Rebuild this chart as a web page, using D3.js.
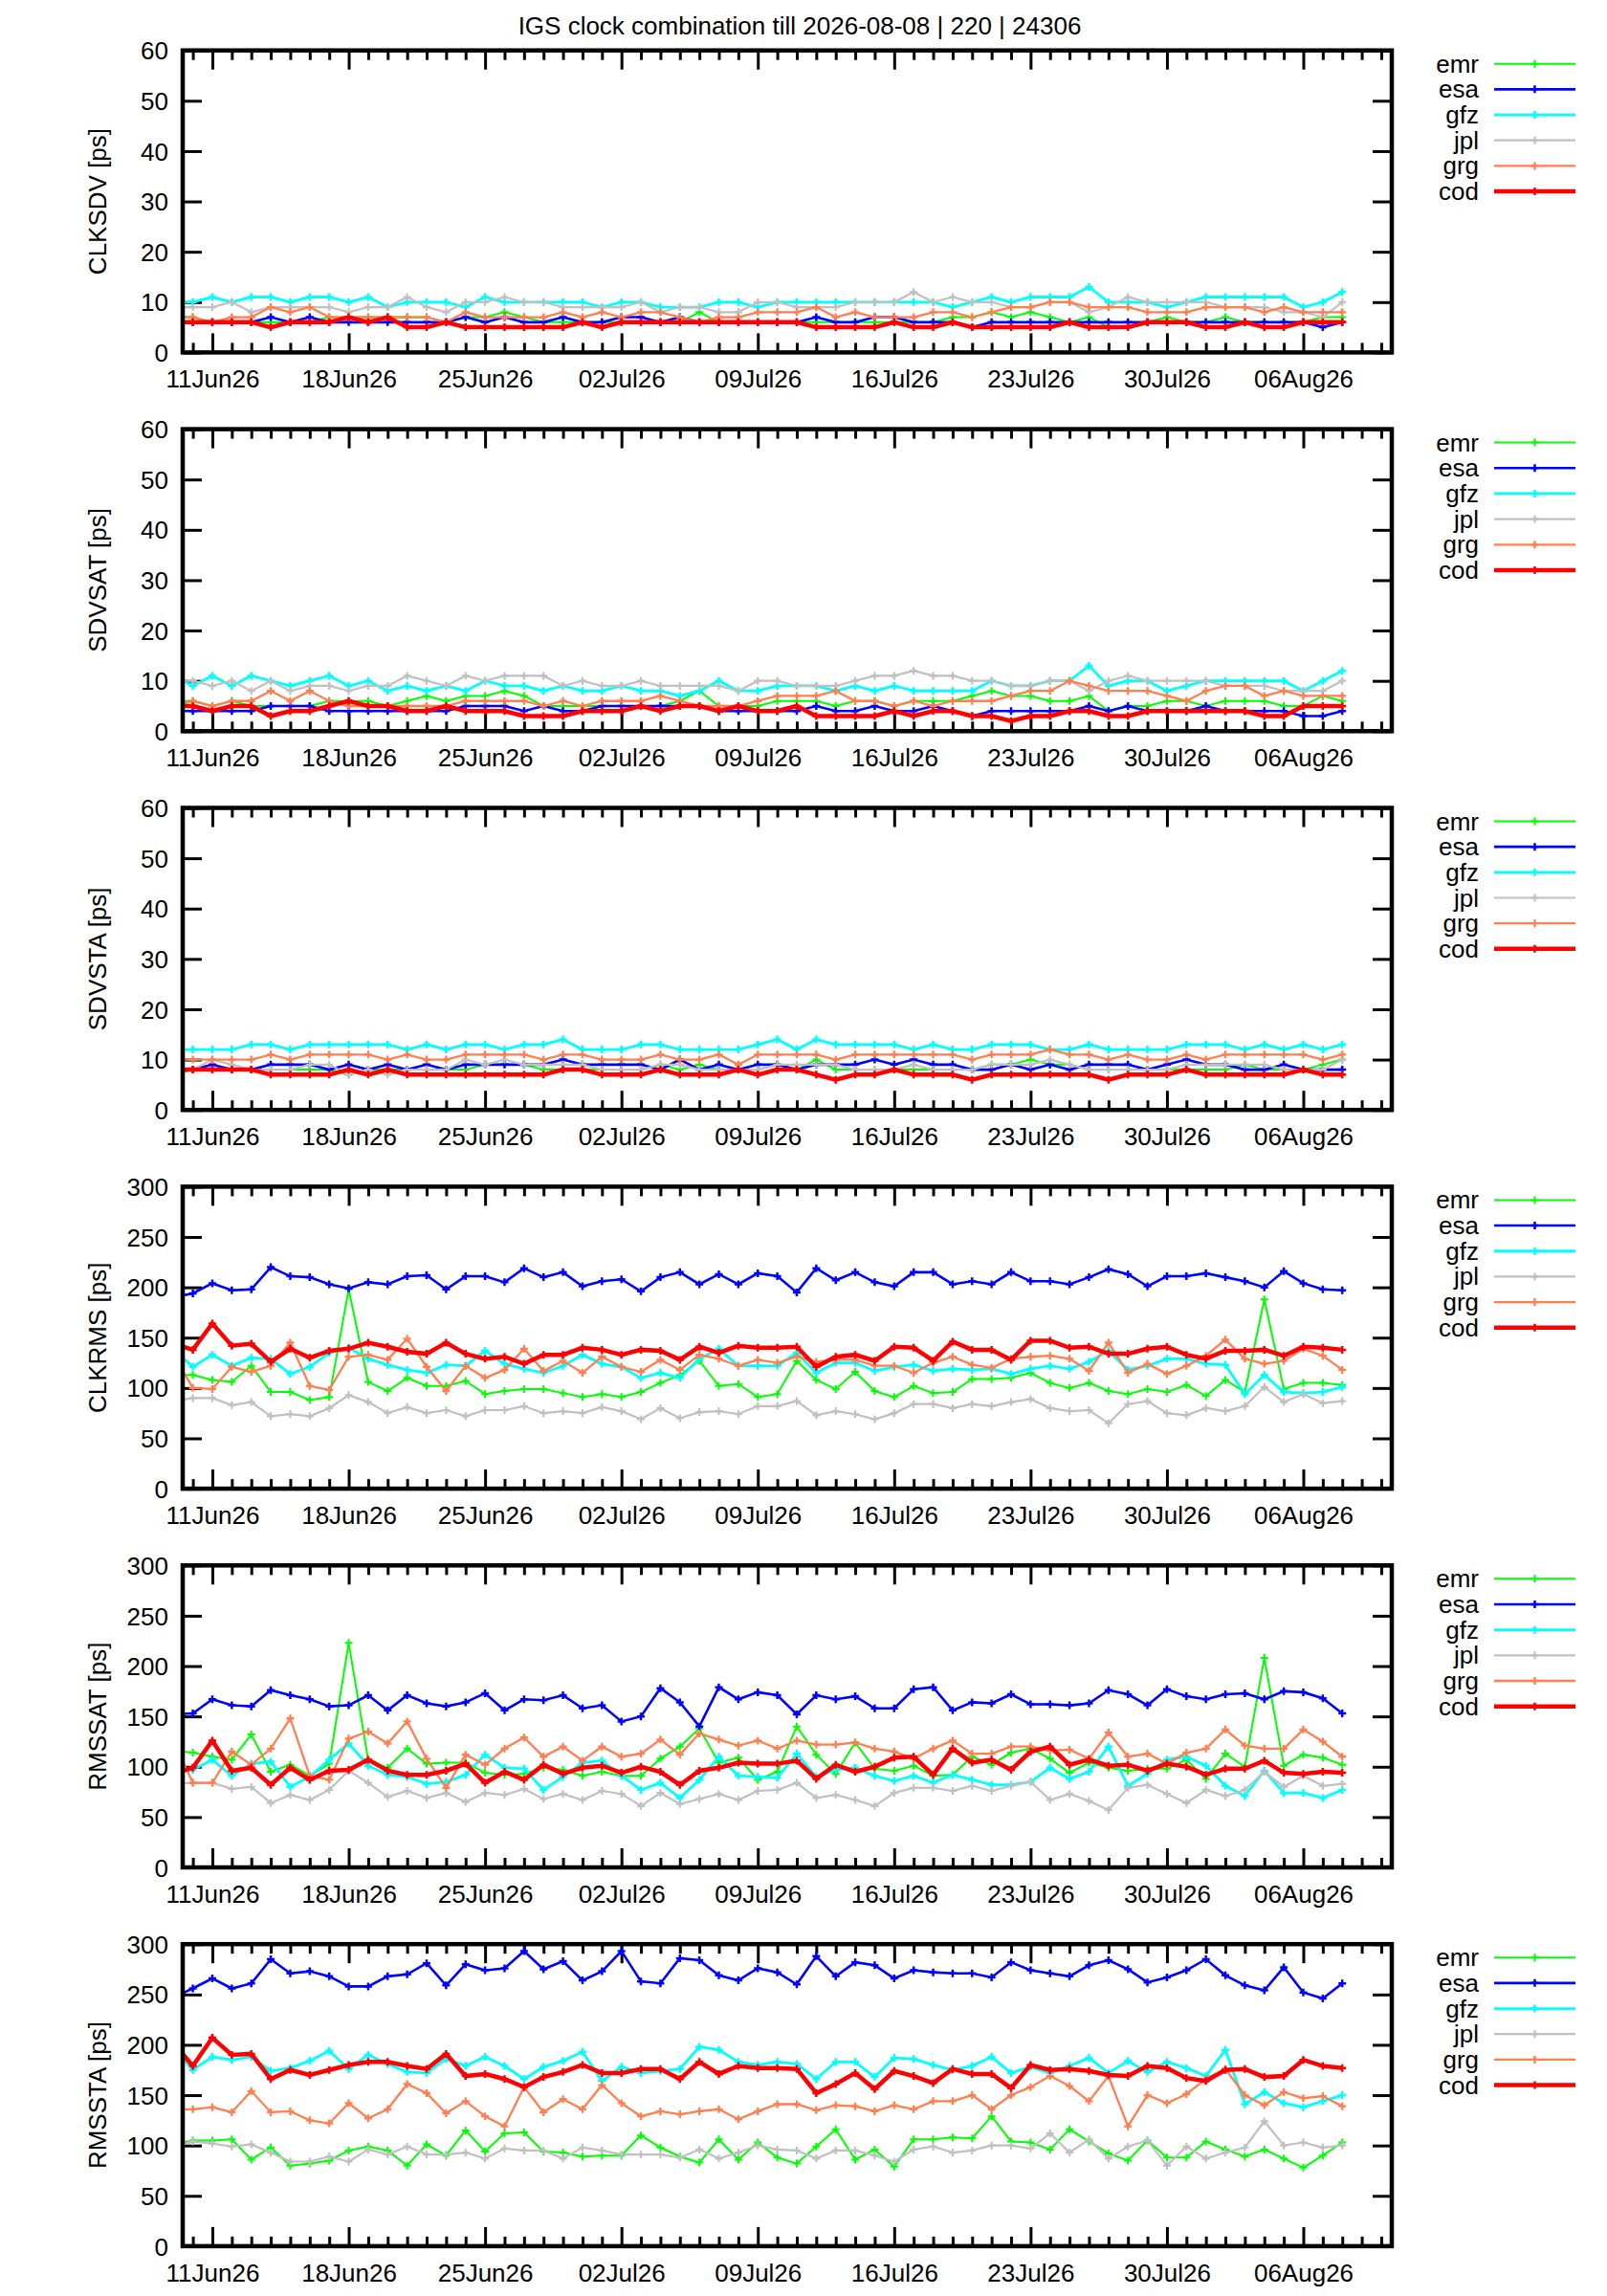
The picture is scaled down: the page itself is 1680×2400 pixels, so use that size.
<!DOCTYPE html>
<html>
<head>
<meta charset="utf-8">
<script src="https://cdnjs.cloudflare.com/ajax/libs/d3/7.8.5/d3.min.js"></script>
<style>
body{margin:0;background:#fff}
text{font-family:"Liberation Sans",Arial,Helvetica,sans-serif;font-size:26px;fill:#000}
</style>
</head>
<body>
<div id="container"></div>
<script>
var title = "IGS clock combination till 2026-08-08 | 220 | 24306"
var firstDay = "2026-06-09", lastDay = "2026-08-08"
var centers = ["emr","esa","gfz","jpl","grg","cod"]
var panelNames = ["CLKSDV","SDVSAT","SDVSTA","CLKRMS","RMSSAT","RMSSTA"]
var panelMax = [60,60,60,300,300,300]
var panelStep = [10,10,10,50,50,50]

// one value per day, 09Jun26 .. 08Aug26 (first day sits outside the x range)
var clksdvEmr = [7, 7,6,6,6,6,6,6,7,7,7,7,7,7,6,7,7,8,7,6,6,6,6,6,6,6,6,8,6,6,6,6,6, 6,6,6,6,6,6,6,7,7,8,7,8,7,6,7,5,5,6,7,6,6,7,6,6,6,6,7,7]
var clksdvEsa = [6, 6,6,6,6,7,6,7,6,6,6,6,6,6,6,7,6,7,6,6,7,6,6,7,7,6,7,6,6,6,6,6,6, 7,6,6,7,7,6,6,6,5,6,6,6,6,6,6,6,6,6,6,6,6,6,6,6,6,6,5,6]
var clksdvGfz = [10, 10,11,10,11,11,10,11,11,10,11,9,10,10,10,9,11,10,10,10,10,10,9,10,10,9,9,9,10,10,9,10,10, 10,10,10,10,10,10,10,9,10,11,10,11,11,11,13,10,10,10,9,10,11,11,11,11,11,9,10,12]
var clksdvJpl = [9, 9,9,10,8,9,9,9,9,8,9,9,11,9,8,10,10,11,10,10,9,9,9,9,10,8,9,9,8,8,10,10,9, 9,9,10,10,10,12,10,11,10,10,9,9,10,10,8,9,11,10,10,10,10,9,9,9,8,8,7,10]
var clksdvGrg = [7, 7,6,7,7,9,8,9,7,7,7,7,7,7,6,8,7,7,7,7,8,7,8,7,8,8,7,6,7,7,8,8,8, 9,7,8,7,7,7,8,8,7,8,9,9,10,10,9,9,9,8,8,8,9,9,9,8,9,8,8,8]
var clksdvCod = [6, 6,6,6,6,5,6,6,6,7,6,7,5,5,6,5,5,5,5,5,5,6,5,6,6,6,6,6,6,6,6,6,6, 5,5,5,5,6,5,5,6,5,5,5,5,5,6,5,5,5,6,6,6,5,5,6,5,5,6,6,6]

var sdvsatEmr = [6, 6,5,6,5,5,5,5,6,6,6,5,6,7,6,7,7,8,7,5,5,5,5,5,5,5,6,8,5,5,5,6, 6,6,5,6,6,5,6,6,6,7,8,7,7,6,6,7,4,5,5,6,6,5,6,6,6,5,5,7,6]
var sdvsatEsa = [4, 4,4,4,4,5,5,5,4,4,4,4,4,4,4,5,5,5,4,5,4,4,5,5,5,5,5,5,4,4,4,4, 4,5,4,4,5,4,4,5,4,3,4,4,4,4,4,5,4,5,4,4,4,5,4,4,4,4,3,3,4]
var sdvsatGfz = [11, 9,11,9,11,10,9,10,11,9,10,8,9,8,9,8,10,9,9,8,9,8,8,9,8,8,7,8,10,8,8,9, 9,9,8,9,8,9,8,8,8,8,10,9,9,10,10,13,9,10,10,8,9,10,10,10,10,10,8,10,12]
var sdvsatJpl = [10, 10,9,10,8,10,8,9,9,8,9,9,11,10,9,11,10,11,11,11,9,10,9,9,10,9,9,9,9,8,10,10, 9,9,9,10,11,11,12,11,11,10,10,9,9,10,10,8,10,11,10,10,10,10,9,9,9,8,8,8,10]
var sdvsatGrg = [5, 6,5,6,6,8,6,8,6,5,5,5,5,5,5,6,6,6,6,5,6,5,6,6,6,7,6,5,5,5,6,7, 7,7,8,6,6,5,6,5,6,6,6,7,8,8,10,9,8,8,8,7,6,8,9,9,7,8,7,7,7]
var sdvsatCod = [5, 5,4,5,5,3,4,4,5,6,5,5,4,4,5,4,4,4,3,3,3,4,4,4,5,4,5,5,4,5,4,4, 5,3,3,3,3,4,3,4,4,3,3,2,3,3,4,4,3,3,4,4,4,4,4,4,3,3,5,5,5]

var sdvstaEmr = [7, 8,8,8,8,8,8,8,8,7,8,8,8,8,8,8,9,9,9,8,8,8,8,8,8,9,8,9,8,8,8,9, 8,10,8,8,8,8,8,8,8,8,9,9,10,9,9,8,8,8,8,8,8,8,8,9,8,8,8,9,10]
var sdvstaEsa = [8, 8,9,8,8,9,9,9,8,9,8,9,8,9,8,9,9,9,9,9,10,9,9,9,9,8,10,8,9,8,9,9, 8,9,9,9,10,9,10,9,9,8,8,9,8,9,8,9,9,9,8,9,10,9,9,8,8,9,8,8,8]
var sdvstaGfz = [12, 12,12,12,13,13,12,13,13,13,13,13,12,13,12,13,13,12,13,13,14,12,12,12,13,13,12,12,12,12,13,14, 12,14,13,13,13,13,12,13,12,12,13,13,13,12,12,13,12,12,12,12,13,13,13,12,13,12,13,12,13]
var sdvstaJpl = [8, 8,10,9,8,8,8,9,9,7,8,7,8,8,8,10,9,10,9,9,9,9,8,8,8,9,9,8,8,8,8,9, 9,9,9,8,8,8,9,8,8,8,9,9,9,10,9,8,8,8,8,8,9,9,9,9,9,8,8,8,10]
var sdvstaGrg = [10, 10,10,10,10,11,10,11,11,11,11,10,11,10,10,11,11,11,11,10,11,11,10,10,10,11,10,10,11,9,11,11, 11,11,10,11,11,11,11,11,11,10,11,11,11,12,11,11,10,11,10,10,11,10,11,11,11,11,11,10,11]
var sdvstaCod = [8, 8,8,8,8,7,7,7,7,8,7,8,7,7,7,7,7,7,7,7,8,8,7,7,7,8,7,7,7,8,7,8, 8,7,6,7,7,8,7,7,7,6,7,7,7,7,7,7,6,7,7,7,8,7,7,7,7,7,8,7,7]

var clkrmsEmr = [113, 113,108,106,122,96,96,88,91,198,106,97,110,102,102,107,94,97,99,99,95,91,94,91,96,105,113,127,102,104,91,94, 127,108,99,116,97,91,102,95,96,109,109,110,115,105,100,105,97,94,99,96,103,92,108,96,188,99,105,105,103]
var clkrmsEsa = [190, 194,204,197,198,220,211,210,203,199,205,203,211,212,198,211,211,205,219,210,215,201,206,208,196,210,215,203,213,203,214,211, 195,219,207,215,205,201,215,215,203,206,203,215,206,206,203,210,218,213,201,211,211,214,210,206,200,216,204,198,197]
var clkrmsGfz = [138, 121,133,122,130,129,114,121,135,140,129,123,118,115,123,122,137,124,119,115,122,133,124,121,110,115,110,129,139,122,122,122, 135,115,125,125,117,121,123,117,119,118,119,114,119,122,119,126,137,118,122,129,129,124,123,94,113,96,95,96,101]
var clkrmsJpl = [87, 90,90,83,86,72,74,72,80,93,86,75,81,75,78,72,78,78,82,75,77,75,81,77,69,80,70,76,77,74,82,82, 87,73,77,74,69,75,84,84,80,84,82,86,89,80,77,78,65,84,87,75,73,80,77,82,101,86,94,85,87]
var clkrmsGrg = [133, 100,99,121,116,122,145,102,98,131,133,128,149,121,97,122,110,118,139,117,127,115,131,121,116,128,118,133,129,122,128,125, 131,126,128,128,122,122,115,125,131,123,120,129,131,132,129,117,145,115,124,114,122,132,148,129,124,127,139,132,118]
var clkrmsCod = [144, 138,164,142,144,126,139,130,137,139,145,141,136,134,145,134,129,131,124,133,133,140,138,133,138,137,128,141,135,142,140,140, 141,121,131,133,127,141,140,127,146,138,138,128,147,147,140,141,134,134,139,141,133,129,137,137,138,132,141,140,138]

var rmssatEmr = [116, 114,110,107,132,95,102,91,103,223,107,99,118,103,104,104,94,92,93,99,97,91,95,91,91,108,120,138,104,109,87,95, 140,112,93,124,98,96,101,91,92,110,102,114,118,108,94,104,99,96,98,98,107,88,113,100,208,101,112,109,102]
var rmssatEsa = [152, 153,167,161,160,176,171,167,160,161,171,156,171,163,160,164,173,156,167,166,171,158,161,145,150,178,164,140,179,167,174,171, 152,171,167,170,158,158,177,179,156,164,163,172,162,162,161,163,176,172,161,177,170,167,172,173,167,175,174,168,153]
var rmssatGfz = [96, 97,107,91,103,105,80,90,107,123,101,92,90,83,85,92,112,99,98,77,90,104,106,91,77,84,69,87,110,91,90,89, 113,90,97,99,91,86,91,84,92,87,82,82,85,99,88,95,120,81,93,107,110,101,81,71,96,74,74,69,77]
var rmssatJpl = [83, 84,84,78,80,64,72,67,77,96,84,70,76,69,74,65,74,72,78,68,73,67,76,73,61,74,63,68,73,67,76,77, 84,69,72,67,61,74,79,79,76,81,76,81,85,67,73,66,57,79,82,73,64,77,71,77,95,80,91,81,83]
var rmssatGrg = [126, 84,84,115,102,118,148,91,87,128,135,123,145,108,79,112,102,118,129,110,120,106,120,110,113,127,112,133,127,121,126,118, 126,122,122,124,118,115,108,118,126,113,113,120,120,116,117,108,134,110,113,103,114,118,137,121,118,118,137,125,110]
var rmssatCod = [93, 99,126,96,99,82,99,87,96,97,107,96,92,92,96,103,84,95,87,102,93,99,101,94,100,95,82,96,99,104,103,103, 106,88,102,95,100,109,110,92,118,104,107,97,115,120,102,107,101,102,96,103,100,92,98,98,106,94,93,95,94]

var rmsstaEmr = [101, 105,105,106,86,98,80,82,85,95,99,95,80,101,90,115,94,112,113,94,93,89,90,90,110,98,89,83,106,86,103,88, 82,99,116,86,96,79,106,106,108,107,129,104,103,96,116,104,92,85,105,88,88,104,96,89,96,87,78,90,103]
var rmsstaEsa = [247, 256,266,256,261,285,271,273,268,258,258,268,270,281,259,280,274,276,293,275,283,264,273,293,263,261,286,284,269,264,276,272, 260,288,268,282,279,266,274,272,271,271,267,282,274,271,268,279,284,275,262,267,274,285,269,259,254,277,252,246,261]
var rmsstaGfz = [197, 175,188,185,188,174,177,184,194,176,190,181,173,172,186,179,188,179,166,178,184,193,164,178,172,174,176,198,195,183,180,183, 181,166,183,183,168,187,186,180,175,179,188,172,178,172,179,187,172,184,173,183,177,169,195,141,153,142,138,144,150]
var rmsstaJpl = [98, 104,102,99,101,93,84,84,89,84,96,91,99,91,91,93,87,97,95,95,87,98,95,91,91,91,88,96,87,93,100,96, 95,87,95,95,90,84,96,99,93,95,100,100,97,112,93,106,87,99,105,80,99,87,93,98,124,100,103,98,100]
var rmsstaGrg = [136, 136,138,133,154,133,134,125,122,142,127,136,161,152,132,144,129,119,158,133,146,136,160,142,129,134,131,134,136,126,134,141, 141,135,140,139,134,140,136,144,144,150,136,150,158,169,159,144,169,119,150,142,151,166,176,150,140,153,147,149,139]
var rmsstaCod = [202, 179,207,190,191,166,175,170,175,180,183,183,179,176,191,169,171,166,158,168,173,180,172,172,176,176,166,183,171,179,177,177, 176,152,161,172,156,174,169,162,176,171,171,157,180,175,176,174,170,169,179,177,167,164,175,176,168,169,185,179,177]

var panelSeries = [
	[clksdvEmr,clksdvEsa,clksdvGfz,clksdvJpl,clksdvGrg,clksdvCod],
	[sdvsatEmr,sdvsatEsa,sdvsatGfz,sdvsatJpl,sdvsatGrg,sdvsatCod],
	[sdvstaEmr,sdvstaEsa,sdvstaGfz,sdvstaJpl,sdvstaGrg,sdvstaCod],
	[clkrmsEmr,clkrmsEsa,clkrmsGfz,clkrmsJpl,clkrmsGrg,clkrmsCod],
	[rmssatEmr,rmssatEsa,rmssatGfz,rmssatJpl,rmssatGrg,rmssatCod],
	[rmsstaEmr,rmsstaEsa,rmsstaGfz,rmsstaJpl,rmsstaGrg,rmsstaCod]
]

var colors = ["#00ff00","#0000ff","#00ffff","#c0c0c0","#ff7f50","#ff0000"]
var widths = [2,2.6,2.8,2.2,2.3,4.5]

var left = 191, right = 1455
var firstTop = 52.7, panelH = 315.7, panelGap = 395.9
var font = "'Liberation Sans', Arial, Helvetica, sans-serif"

var svg = d3.select("#container").append("svg")
	.attr("width",1680).attr("height",2400)
	.style("background","#fff")

svg.append("text")
	.attr("x",836).attr("y",36)
	.attr("text-anchor","middle")
	.text(title)

var days = d3.utcDay.range(new Date(firstDay), d3.utcDay.offset(new Date(lastDay),1))
var x = d3.scaleUtc()
	.domain([new Date("2026-06-09T11:30:00Z"), new Date("2026-08-10T13:00:00Z")])
	.range([left,right])
var tickDays = d3.utcDay.range(new Date("2026-06-10"), new Date("2026-08-11"))
var majorDays = tickDays.filter(function(d){return d.getUTCDay()==4})
var minorDays = tickDays.filter(function(d){return d.getUTCDay()!=4})
var fmt = d3.utcFormat("%d%b%y")

for(var k in panelNames){
	makePanel(+k)
}

function styleAxis(g){
	g.select(".domain").remove()
	g.attr("font-family",font).attr("font-size",26)
	g.selectAll(".tick line").attr("stroke","#000").attr("stroke-width",3)
	g.selectAll(".tick text").attr("fill","#000")
}

function makePanel(k){
	var top = firstTop + k*panelGap
	var bottom = top + panelH
	var y = d3.scaleLinear().domain([0,panelMax[k]]).range([bottom,top])
	var g = svg.append("g").attr("class","panel")

	g.append("clipPath").attr("id","clip"+k)
		.append("rect")
		.attr("x",left).attr("y",top)
		.attr("width",right-left).attr("height",panelH)

	// x ticks, bottom and mirrored at top
	g.append("g").attr("transform","translate(0,"+bottom+")")
		.call(d3.axisBottom(x).tickValues(minorDays).tickSize(-10).tickFormat(""))
		.call(styleAxis)
	g.append("g").attr("transform","translate(0,"+bottom+")")
		.call(d3.axisBottom(x).tickValues(majorDays).tickSize(-20).tickPadding(18.5).tickFormat(fmt))
		.call(styleAxis)
	g.append("g").attr("transform","translate(0,"+top+")")
		.call(d3.axisTop(x).tickValues(minorDays).tickSize(-10).tickFormat(""))
		.call(styleAxis)
	g.append("g").attr("transform","translate(0,"+top+")")
		.call(d3.axisTop(x).tickValues(majorDays).tickSize(-20).tickFormat(""))
		.call(styleAxis)

	var yTicks = d3.range(0,panelMax[k]+1,panelStep[k])
	g.append("g").attr("transform","translate("+left+",0)")
		.call(d3.axisLeft(y).tickValues(yTicks).tickSize(-20).tickPadding(15))
		.call(styleAxis)
		.selectAll(".tick text").attr("dy","0.35em")
	g.append("g").attr("transform","translate("+right+",0)")
		.call(d3.axisRight(y).tickValues(yTicks).tickSize(-20).tickFormat(""))
		.call(styleAxis)

	g.append("text")
		.attr("transform","translate(111,"+((top+bottom)/2)+") rotate(-90)")
		.attr("text-anchor","middle")
		.text(panelNames[k]+" [ps]")

	var line = d3.line()
		.x(function(d,i){return x(days[i])})
		.y(function(d){return y(d)})

	var plot = g.append("g").attr("clip-path","url(#clip"+k+")")
	panelSeries[k].forEach(function(values,s){
		plot.append("path")
			.attr("d",line(values))
			.attr("fill","none")
			.attr("stroke",colors[s])
			.attr("stroke-width",widths[s])
			.attr("stroke-linejoin","miter")
		plot.selectAll(".pt"+s)
			.data(values)
			.enter()
			.append("path")
			.attr("class","pt"+s)
			.attr("d","M-4,0h8M0,-4v8")
			.attr("transform",function(d,i){return "translate("+x(days[i])+","+y(d)+")"})
			.attr("stroke",colors[s])
			.attr("stroke-width",Math.min(widths[s],2.5))
	})

	// legend
	centers.forEach(function(c,s){
		var ly = top + 14 + s*26.67
		g.append("text")
			.attr("x",1546).attr("y",ly+9)
			.attr("text-anchor","end")
			.text(c)
		g.append("line")
			.attr("x1",1562).attr("x2",1647)
			.attr("y1",ly).attr("y2",ly)
			.attr("stroke",colors[s])
			.attr("stroke-width",widths[s])
		g.append("path")
			.attr("d","M-4,0h8M0,-4v8")
			.attr("transform","translate(1604.5,"+ly+")")
			.attr("stroke",colors[s])
			.attr("stroke-width",Math.min(widths[s],2.5))
	})

	g.append("rect")
		.attr("x",left).attr("y",top)
		.attr("width",right-left).attr("height",panelH)
		.attr("fill","none")
		.attr("stroke","#000")
		.attr("stroke-width",4.5)
}
</script>
</body>
</html>
